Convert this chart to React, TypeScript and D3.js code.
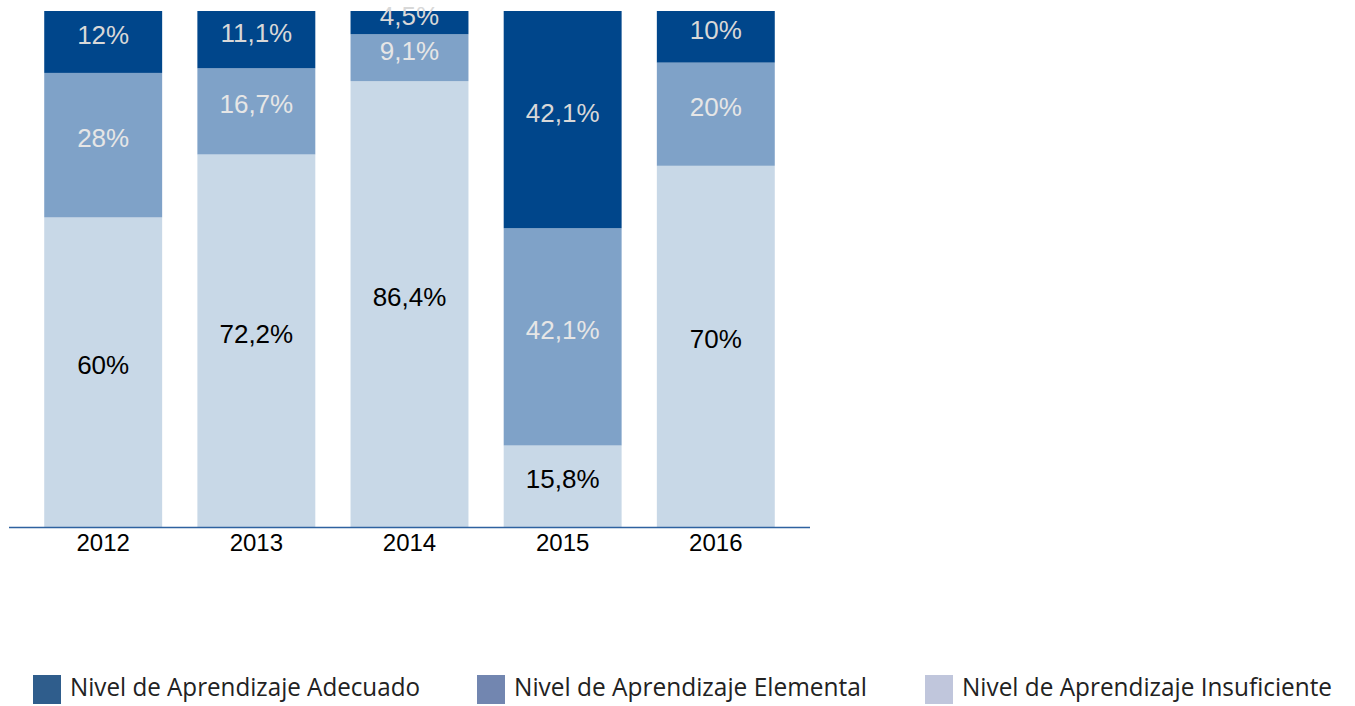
import { useEffect, useRef } from 'react';
import * as d3 from 'd3';

// values (percent)
const years = ['2012', '2013', '2014', '2015', '2016'];
const adecuado = [12, 11.1, 4.5, 42.1, 10];
const elemental = [28, 16.7, 9.1, 42.1, 20];
const insuficiente = [60, 72.2, 86.4, 15.8, 70];

const seriesNames = [
  'Nivel de Aprendizaje Adecuado',
  'Nivel de Aprendizaje Elemental',
  'Nivel de Aprendizaje Insuficiente',
];
const barColors = ['#00468b', '#7fa2c8', '#c8d8e7'];
const legendColors = ['#2f5d8c', '#7286b0', '#c0c6dc'];
const labelColors = ['#d8d8d8', '#e6e6e6', '#000000'];

const fmt = (v: number) => String(v).replace('.', ',') + '%';

const App = () => {
  const svgRef = useRef<SVGSVGElement>(null);

  useEffect(() => {
    if (!svgRef.current) return;
    const svg = d3.select(svgRef.current);
    svg.selectAll('*').remove();

    const x = d3.scaleBand().domain(years).range([9, 810]).padding(0.23);
    const y = d3.scaleLinear().domain([0, 100]).range([527, 11]);

    // stack from the bottom: insuficiente, elemental, adecuado
    const rows = years.map((yr, i) => ({
      year: yr,
      s0: adecuado[i],
      s1: elemental[i],
      s2: insuficiente[i],
    }));
    const stack = d3.stack<any>().keys(['s2', 's1', 's0']);
    const layers = stack(rows);

    const g = svg.append('g');
    layers.forEach((layer) => {
      const idx = Number(layer.key.slice(1));
      g.append('g')
        .selectAll('rect')
        .data(layer)
        .join('rect')
        .attr('x', (d: any) => x(d.data.year)!)
        .attr('width', x.bandwidth())
        .attr('y', (d) => y(d[1]))
        .attr('height', (d) => y(d[0]) - y(d[1]))
        .attr('fill', barColors[idx]);
    });

    layers.forEach((layer) => {
      const idx = Number(layer.key.slice(1));
      g.append('g')
        .selectAll('text')
        .data(layer)
        .join('text')
        .attr('x', (d: any) => x(d.data.year)! + x.bandwidth() / 2)
        .attr('y', (d) => (y(d[0]) + y(d[1])) / 2 + 2)
        .attr('text-anchor', 'middle')
        .attr('font-family', 'Liberation Sans, Arial, sans-serif')
        .attr('font-size', 26)
        .attr('fill', labelColors[idx])
        .text((d: any) => fmt(d.data[layer.key]));
    });

    // baseline axis
    svg.append('line')
      .attr('x1', 9)
      .attr('x2', 810)
      .attr('y1', y(0) + 0.5)
      .attr('y2', y(0) + 0.5)
      .attr('stroke', '#2e62a0')
      .attr('stroke-width', 1.5);

    svg.append('g')
      .selectAll('text')
      .data(years)
      .join('text')
      .attr('x', (d) => x(d)! + x.bandwidth() / 2)
      .attr('y', 551)
      .attr('text-anchor', 'middle')
      .attr('font-family', 'Liberation Sans, Arial, sans-serif')
      .attr('font-size', 24)
      .attr('fill', '#000')
      .text((d) => d);

    // legend
    const legendX = [33, 477, 925];
    const legendW = [350, 353, 370];
    const lg = svg.append('g');
    seriesNames.forEach((name, i) => {
      lg.append('rect')
        .attr('x', legendX[i])
        .attr('y', 675)
        .attr('width', 28)
        .attr('height', 29)
        .attr('fill', legendColors[i]);
      lg.append('text')
        .attr('x', legendX[i] + 37)
        .attr('y', 696)
        .attr('font-family', 'Open Sans, Noto Sans, sans-serif')
        .attr('font-size', 25)
        .attr('fill', '#222')
        .attr('textLength', legendW[i])
        .attr('lengthAdjust', 'spacingAndGlyphs')
        .text(name);
    });
  }, []);

  return (
    <svg
      ref={svgRef}
      width={1355}
      height={706}
      style={{ position: 'absolute', left: 0, top: 0, background: '#fff' }}
    />
  );
};

export default App;
